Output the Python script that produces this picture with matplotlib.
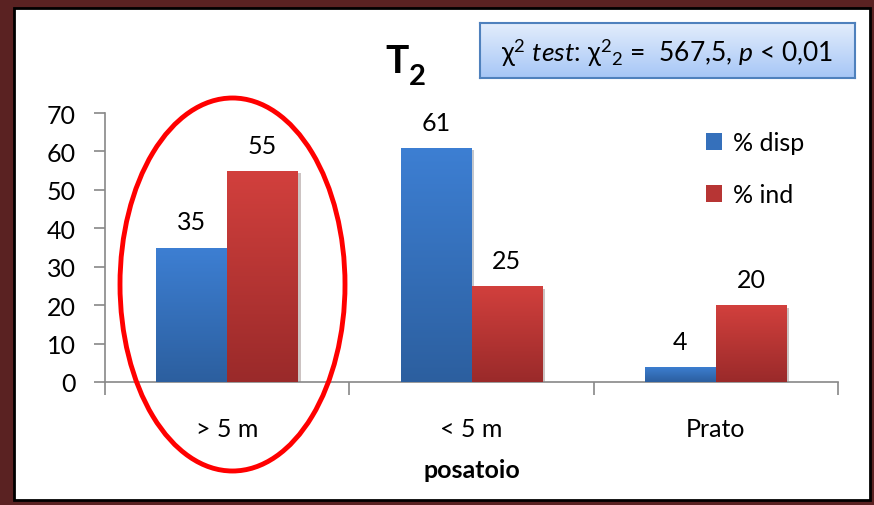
import numpy as np
import matplotlib
matplotlib.use("Agg")
import matplotlib.pyplot as plt
from matplotlib.colors import LinearSegmentedColormap
from matplotlib.patches import Rectangle, Ellipse, Patch
import matplotlib.patheffects as pe

# === Data ===
categories = ["> 5 m", "< 5 m", "Prato"]
pct_disp = [35, 61, 4]
pct_ind = [55, 25, 20]
series_names = ["% disp", "% ind"]

plt.rcParams["font.family"] = ["Lato", "DejaVu Sans"]
plt.rcParams["mathtext.fontset"] = "custom"
plt.rcParams["mathtext.rm"] = "Lato"
plt.rcParams["mathtext.it"] = "Lato:italic"
plt.rcParams["mathtext.bf"] = "Lato:bold"

FS = 18
W, H = 874, 506
fig = plt.figure(figsize=(W / 100, H / 100), dpi=100, facecolor="#5a2222")

def fx(px):
    return px / W

def fy(py):
    return 1 - py / H

# white card with black edge inside the maroon frame
fig.patches.append(Rectangle((fx(14), fy(501)), fx(870) - fx(14), fy(9) - fy(501),
                             transform=fig.transFigure, facecolor="white",
                             edgecolor="black", lw=2, zorder=-5))

ax = fig.add_axes([fx(105), fy(383), fx(838) - fx(105), fy(114) - fy(383)])
ax.set_facecolor("none")

x = np.arange(len(categories))
bw = 0.29
blue_cmap = LinearSegmentedColormap.from_list("b", ["#2c5f9f", "#3d7fd3"])
red_cmap = LinearSegmentedColormap.from_list("r", ["#9a2a2a", "#d2403d"])
grad = np.linspace(0, 1, 256).reshape(-1, 1)

def gradient_bars(xs, vals, cmap, label):
    bars = ax.bar(xs, vals, bw, color=cmap(0.5), label=label, zorder=2,
                  path_effects=[pe.SimplePatchShadow(offset=(2, -2), alpha=0.25), pe.Normal()])
    for b in bars:
        x0, w, h = b.get_x(), b.get_width(), b.get_height()
        im = ax.imshow(grad, cmap=cmap, origin="lower", aspect="auto",
                       extent=(x0, x0 + w, 0, h), zorder=3)
        im.set_clip_path(b)
    return bars

bars_d = gradient_bars(x - bw / 2, pct_disp, blue_cmap, series_names[0])
bars_i = gradient_bars(x + bw / 2, pct_ind, red_cmap, series_names[1])

for bars in (bars_d, bars_i):
    for b in bars:
        ax.annotate(f"{b.get_height():g}", (b.get_x() + b.get_width() / 2, b.get_height()),
                    xytext=(0, 13), textcoords="offset points", ha="center", va="baseline",
                    fontsize=FS, color="black")

ax.set_xlim(-0.5, 2.5)
ax.set_ylim(0, 70)
ax.set_yticks(range(0, 71, 10))
ax.set_xticks([-0.5, 0.5, 1.5, 2.5])
ax.set_xticklabels([])
ax.set_xticks(x, minor=True)
ax.set_xticklabels(categories, minor=True)
ax.tick_params(axis="x", which="minor", length=0, pad=25, labelsize=FS)
ax.tick_params(axis="x", which="major", length=9, color="#888888", width=1.2)
ax.tick_params(axis="y", length=8, color="#888888", width=1.2, labelsize=FS, pad=13)
for s in ("top", "right"):
    ax.spines[s].set_visible(False)
for s in ("left", "bottom"):
    ax.spines[s].set_color("#888888")
    ax.spines[s].set_linewidth(1.2)
ax.set_xlabel("posatoio", fontsize=FS, fontweight="bold", labelpad=13)

# legend
handles = [Patch(facecolor="#3570bb"), Patch(facecolor="#b73534")]
ax.legend(handles, series_names, loc="upper left", frameon=False, fontsize=FS,
          bbox_to_anchor=(fx(683), fy(110)), bbox_transform=fig.transFigure,
          handlelength=0.65, handleheight=0.65, handletextpad=0.45, labelspacing=1.15)

# title T2
fig.text(fx(397), fy(73), "T", fontsize=28, fontweight="bold", ha="center", va="baseline")
fig.text(fx(417), fy(85), "2", fontsize=21, fontweight="bold", ha="center", va="baseline")

# chi-square box
bx = fig.add_axes([fx(480), fy(79), fx(855) - fx(480), fy(24) - fy(79)])
bx.imshow(grad, cmap=LinearSegmentedColormap.from_list("box", ["#a6c6f6", "#e4eefc"]),
          origin="lower", aspect="auto", extent=(0, 1, 0, 1))
bx.set_xticks([])
bx.set_yticks([])
for s in bx.spines.values():
    s.set_color("#4f81bd")
    s.set_linewidth(1.5)
bx.text(0.5, 0.48,
        r"$\mathrm{\chi}^2$ $\mathit{test}$: $\mathrm{\chi}^{2}{}_{2}$ =  567,5, $\mathit{p}$ < 0,01",
        fontsize=19, ha="center", va="center", transform=bx.transAxes)

# highlight ellipse around the first group
fig.patches.append(Ellipse((fx(232.5), fy(285.5)), fx(225), 373 / H, transform=fig.transFigure,
                           facecolor="none", edgecolor="#ff0000", lw=3.5, zorder=10))

fig.savefig("out.png", dpi=100, facecolor=fig.get_facecolor())
